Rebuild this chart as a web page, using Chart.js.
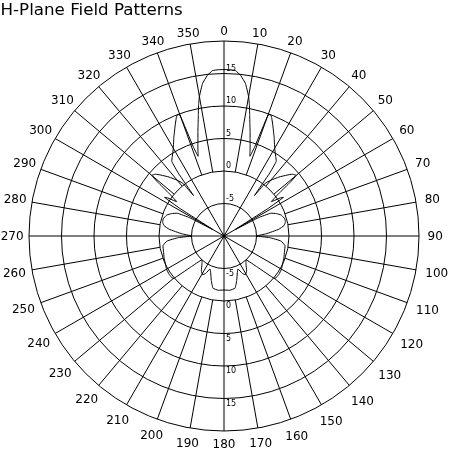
<!DOCTYPE html>
<html><head><meta charset="utf-8">
<script src="https://cdn.jsdelivr.net/npm/chart.js@4.4.1/dist/chart.umd.min.js"></script>
<style>html,body{margin:0;padding:0;background:#fff;}</style>
</head><body>
<canvas id="c" width="450" height="450"></canvas>
<script>
const chartTitle = 'H-Plane Field Patterns';
const angleTickLabels = ['0','10','20','30','40','50','60','70','80','90','100','110','120','130','140','150','160','170',
  '180','190','200','210','220','230','240','250','260','270','280','290','300','310','320','330','340','350'];
const radialTickValues = [-5, 0, 5, 10, 15];
const radialMin = -10, radialMax = 20, radialStep = 5;

// pattern: angle (deg, clockwise from top) and level (dB)
const patternAngles = [
  0,2,4,6,8,10,11,12,13,14,15,16,17,18,19,20,21,22,24,27,30,33,35,36,37,38,40,43,46,48,50,51,52,54,56,57,58,60,62,64,67,70,74,77,80,83,87,90,92,95,99,104,110,120,125,130,133,137,142,147,151,154,157,160,164,168,174,
  180,186,192,196,200,203,206,209,213,218,223,227,230,235,240,250,256,261,265,268,270,273,277,280,283,286,290,293,296,298,300,302,303,304,306,308,309,310,312,314,317,320,322,323,324,325,327,330,333,336,338,339,340,341,342,343,344,345,346,347,348,349,350,352,354,356,358];
const patternValues = [
  15.6,15.6,15.5,14.8,13.7,11.8,10.5,9.0,7.7,6.6,5.5,4.6,3.7,2.9,4.5,9.8,10,9.6,8.5,7,5.6,4.6,4,2,-2.2,0.3,1.2,2.4,3.5,4.2,4.5,3,1,-1,0.5,0.9,-2,-8,-4,-2,-1.2,-0.6,-0.3,-0.3,-0.6,-1.5,-3.5,-5,-3,-1.2,-0.5,-0.4,-0.2,0.2,0.3,0.2,-3,-5,-4.5,-3.6,-3.2,-3.6,-4.5,-4,-2.9,-1.8,-1.6,
  -1.7,-1.6,-1.8,-2.9,-4,-4.5,-3.6,-3.2,-3.6,-4.5,-5,-3,0.2,0.3,0.2,-0.2,-0.4,-0.5,-1.2,-3,-5,-3.5,-1.5,-0.6,-0.3,-0.3,-0.6,-1.2,-2,-4,-8,-2,0.9,0.5,-1,1,3,4.5,4.2,3.5,2.4,1.2,0.3,-2.2,2,4,4.6,5.6,7,8.5,9.6,10,9.8,4.5,2.9,3.7,4.6,5.5,6.6,7.7,9.0,10.5,11.8,13.7,14.8,15.5,15.6];

const degreeLabels = [];
for (let d = 0; d < 360; d++) degreeLabels.push(String(d));
const patternData = degreeLabels.map(() => null);
patternAngles.forEach((a, i) => { patternData[a] = patternValues[i]; });

const polarDecor = {
  id: 'polarDecor',
  beforeDatasetsDraw(chart) {
    const s = chart.scales.r, ctx = chart.ctx;
    ctx.save();
    ctx.strokeStyle = '#000'; ctx.lineWidth = 1;
    angleTickLabels.forEach((lab, k) => {
      const idx = k * 10;
      if (idx % 30 === 0) return;
      const a = s.getPointPosition(idx, s.getDistanceFromCenterForValue(0));
      const b = s.getPointPosition(idx, s.drawingArea);
      ctx.beginPath(); ctx.moveTo(a.x, a.y); ctx.lineTo(b.x, b.y); ctx.stroke();
    });
    ctx.restore();
  },
  afterDatasetsDraw(chart) {
    const s = chart.scales.r, ctx = chart.ctx;
    ctx.save();
    ctx.fillStyle = '#000';
    ctx.font = '8px "DejaVu Sans"';
    ctx.textAlign = 'left'; ctx.textBaseline = 'middle';
    radialTickValues.forEach(v => {
      const d = s.getDistanceFromCenterForValue(v);
      ctx.fillText(String(v), s.xCenter + 2, s.yCenter - d - 5);
      ctx.fillText(String(v), s.xCenter + 2, s.yCenter + d + 5);
    });
    ctx.font = '12px "DejaVu Sans"';
    ctx.textAlign = 'center'; ctx.textBaseline = 'middle';
    angleTickLabels.forEach((lab, k) => {
      const th = k * 10 * Math.PI / 180;
      const w = ctx.measureText(lab).width, h = 9;
      const g = 7 - 2.2 * Math.cos(th) + 1.6 * Math.sin(th);
      const dist = s.drawingArea + g + Math.abs(Math.sin(th)) * w / 2 + Math.abs(Math.cos(th)) * h / 2;
      const p = s.getPointPosition(k * 10, dist);
      ctx.fillText(lab, p.x, p.y + 0.5);
    });
    ctx.fillRect(s.xCenter - 1.5, s.yCenter - 1.5, 3, 3);
    ctx.font = '16.7px "DejaVu Sans"';
    ctx.textAlign = 'left'; ctx.textBaseline = 'alphabetic';
    ctx.fillText(chartTitle, 0.5, 15);
    ctx.restore();
  }
};

new Chart(document.getElementById('c'), {
  type: 'radar',
  data: {
    labels: degreeLabels,
    datasets: [{
      data: patternData,
      borderColor: '#000',
      borderWidth: 1,
      fill: false,
      pointRadius: 0,
      pointHoverRadius: 0,
      spanGaps: true,
      tension: 0.1
    }]
  },
  options: {
    responsive: false,
    animation: false,
    devicePixelRatio: 1,
    layout: { padding: { left: 29, right: 31, top: 41, bottom: 19 } },
    plugins: { legend: { display: false }, tooltip: { enabled: false }, title: { display: false } },
    scales: {
      r: {
        min: radialMin, max: radialMax,
        startAngle: 0,
        ticks: { stepSize: radialStep, display: false },
        grid: { circular: true, color: '#000', lineWidth: 1 },
        angleLines: { display: true, color: '#000', lineWidth: ctx => (ctx.index % 30 === 0 ? 1 : 0) },
        pointLabels: { display: false }
      }
    }
  },
  plugins: [polarDecor]
});
</script>
</body></html>
